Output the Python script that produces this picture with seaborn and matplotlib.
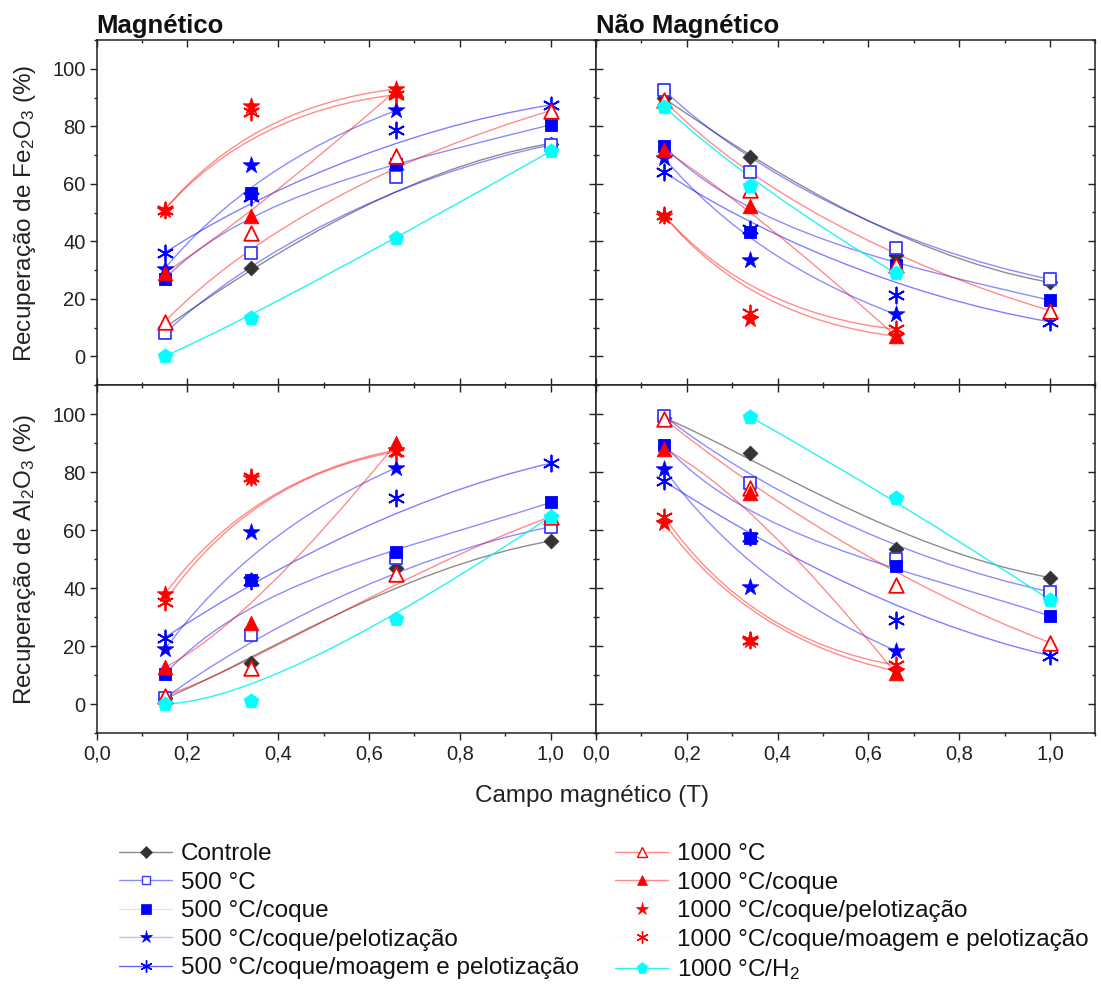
import numpy as np
import matplotlib
matplotlib.use("Agg")
import matplotlib.pyplot as plt
import matplotlib.ticker as mticker
import seaborn as sns
import pandas as pd
from matplotlib.path import Path
from matplotlib.patches import PathPatch
from matplotlib.lines import Line2D

# ---------------- data ----------------
campo = [0.15, 0.34, 0.66, 1.0]          # magnetic field (T)
nan = np.nan

# Magnetic fraction, Fe2O3 recovery (%)
fe_mag_controle   = [10.0, 30.6, 65.0, 74.0]
fe_mag_500        = [8.0, 36.0, 62.5, 73.5]
fe_mag_500c       = [27.0, 56.7, 67.0, 80.5]
fe_mag_500cp      = [30.5, 66.5, 85.5, nan]
fe_mag_500cmp     = [36.0, 55.5, 78.8, 87.4]
fe_mag_1000       = [12.0, 43.0, 69.6, 85.4]
fe_mag_1000c      = [29.0, 48.7, 92.5, nan]
fe_mag_1000cp     = [51.0, 87.0, 93.0, nan]
fe_mag_1000cmp    = [51.0, 85.0, 91.0, nan]
fe_mag_1000h2     = [0.0, 13.4, 41.0, 71.3]

# Non-magnetic fraction, Fe2O3 recovery (%)
fe_nmag_controle  = [89.7, 69.3, 35.2, 25.7]
fe_nmag_500       = [92.5, 64.2, 37.7, 26.8]
fe_nmag_500c      = [73.0, 43.2, 31.8, 19.5]
fe_nmag_500cp     = [69.0, 33.5, 14.6, nan]
fe_nmag_500cmp    = [64.1, 44.1, 21.2, 12.0]
fe_nmag_1000      = [89.0, 58.0, 31.8, 15.9]
fe_nmag_1000c     = [71.9, 52.2, 7.1, nan]
fe_nmag_1000cp    = [48.9, 13.0, 7.0, nan]
fe_nmag_1000cmp   = [49.0, 15.0, 9.4, nan]
fe_nmag_1000h2    = [86.8, 59.3, 28.9, nan]

# Magnetic fraction, Al2O3 recovery (%)
al_mag_controle   = [1.9, 14.0, 46.8, 56.2]
al_mag_500        = [2.0, 23.8, 50.2, 61.1]
al_mag_500c       = [10.2, 42.8, 52.3, 69.5]
al_mag_500cp      = [18.8, 59.4, 81.5, nan]
al_mag_500cmp     = [22.9, 42.4, 70.9, 83.0]
al_mag_1000       = [2.9, 12.5, 45.0, 64.6]
al_mag_1000c      = [12.6, 28.0, 89.9, nan]
al_mag_1000cp     = [37.9, 78.0, 87.6, nan]
al_mag_1000cmp    = [35.3, 78.4, 87.0, nan]
al_mag_1000h2     = [0.0, 1.0, 29.2, 64.6]

# Non-magnetic fraction, Al2O3 recovery (%)
al_nmag_controle  = [98.7, 86.4, 53.3, 43.6]
al_nmag_500       = [99.3, 76.1, 50.0, 38.7]
al_nmag_500c      = [89.3, 57.1, 47.6, 30.4]
al_nmag_500cp     = [81.0, 40.4, 18.4, nan]
al_nmag_500cmp    = [76.9, 57.7, 29.0, 16.7]
al_nmag_1000      = [98.3, 74.4, 41.2, 21.2]
al_nmag_1000c     = [88.1, 72.6, 10.6, nan]
al_nmag_1000cp    = [62.3, 22.0, 11.4, nan]
al_nmag_1000cmp   = [64.6, 22.0, 13.4, nan]
al_nmag_1000h2    = [nan, 99.0, 70.9, 35.9]

series_names = ["Controle", "500 °C", "500 °C/coque", "500 °C/coque/pelotização",
                "500 °C/coque/moagem e pelotização", "1000 °C", "1000 °C/coque",
                "1000 °C/coque/pelotização", "1000 °C/coque/moagem e pelotização",
                "1000 °C/H$_2$"]

panel_titles = ["Magnético", "Não Magnético"]
ylabels = ["Recuperação de Fe$_2$O$_3$ (%)", "Recuperação de Al$_2$O$_3$ (%)"]
xlabel = "Campo magnético (T)"
xtick_vals = [0.0, 0.2, 0.4, 0.6, 0.8, 1.0]
xtick_labels = ["0,0", "0,2", "0,4", "0,6", "0,8", "1,0"]
ytick_vals = [0, 20, 40, 60, 80, 100]
ytick_labels = ["0", "20", "40", "60", "80", "100"]

panels = [
    [fe_mag_controle, fe_mag_500, fe_mag_500c, fe_mag_500cp, fe_mag_500cmp,
     fe_mag_1000, fe_mag_1000c, fe_mag_1000cp, fe_mag_1000cmp, fe_mag_1000h2],
    [fe_nmag_controle, fe_nmag_500, fe_nmag_500c, fe_nmag_500cp, fe_nmag_500cmp,
     fe_nmag_1000, fe_nmag_1000c, fe_nmag_1000cp, fe_nmag_1000cmp, fe_nmag_1000h2],
    [al_mag_controle, al_mag_500, al_mag_500c, al_mag_500cp, al_mag_500cmp,
     al_mag_1000, al_mag_1000c, al_mag_1000cp, al_mag_1000cmp, al_mag_1000h2],
    [al_nmag_controle, al_nmag_500, al_nmag_500c, al_nmag_500cp, al_nmag_500cmp,
     al_nmag_1000, al_nmag_1000c, al_nmag_1000cp, al_nmag_1000cmp, al_nmag_1000h2],
]

# ---------------- style ----------------
sns.set_theme(style="white")
plt.rcParams['font.family'] = ['Liberation Sans', 'DejaVu Sans']
plt.rcParams['mathtext.fontset'] = 'custom'
plt.rcParams['mathtext.rm'] = 'Liberation Sans'
plt.rcParams['mathtext.it'] = 'Liberation Sans:italic'
plt.rcParams['mathtext.bf'] = 'Liberation Sans:bold'

BLUE = "#0000FF"
RED = "#FF0000"
CYAN = "#00FFFF"
DARK = "#333333"
ASTER = (6, 2, 0)

# marker, markersize, facecolor, edgecolor, line rgba, legend-line alpha
styles = [
    dict(marker="D", ms=7.5, fc=DARK, ec=DARK, lc=(0, 0, 0, 0.45), la=0.45),
    dict(marker="s", ms=8.5, fc="white", ec="#3a3aff", lc=(0, 0, 1, 0.45), la=0.45),
    dict(marker="s", ms=9.0, fc=BLUE, ec=BLUE, lc=(0, 0, 1, 0.45), la=0.12),
    dict(marker="*", ms=12.5, fc=BLUE, ec=BLUE, lc=(0, 0, 1, 0.45), la=0.25),
    dict(marker=ASTER, ms=11.5, fc=BLUE, ec=BLUE, lc=(0, 0, 1, 0.5), la=0.6),
    dict(marker="^", ms=10.5, fc="white", ec=RED, lc=(1, 0, 0, 0.45), la=0.45),
    dict(marker="^", ms=10.5, fc=RED, ec=RED, lc=(1, 0, 0, 0.45), la=0.45),
    dict(marker="*", ms=12.5, fc=RED, ec=RED, lc=(1, 0, 0, 0.45), la=0.0),
    dict(marker=ASTER, ms=11.5, fc=RED, ec=RED, lc=(1, 0, 0, 0.45), la=0.04),
    dict(marker="p", ms=11.0, fc=CYAN, ec=CYAN, lc=(0, 0.95, 0.95, 0.85), la=0.85),
]

W, H = 1101, 984
fig = plt.figure(figsize=(W / 100, H / 100), dpi=100)
fig.patch.set_facecolor("white")

axL = 96.7 / W
axW = 499.3 / W
rects = [
    (axL, 1 - 385 / H, axW, 345 / H),
    (axL + axW, 1 - 385 / H, axW, 345 / H),
    (axL, 1 - 733 / H, axW, 348 / H),
    (axL + axW, 1 - 733 / H, axW, 348 / H),
]

TICK_FS = 14.5
for k, rect in enumerate(rects):
    ax = fig.add_axes(rect)
    ax.set_facecolor("white")
    is_left = (k % 2 == 0)
    is_bottom = (k >= 2)

    for j, vals in enumerate(panels[k]):
        st = styles[j]
        df = pd.DataFrame({"x": campo, "y": vals}).dropna()
        pts = df[["x", "y"]].to_numpy()
        n = len(pts)
        if n == 4:
            codes = [Path.MOVETO, Path.CURVE4, Path.CURVE4, Path.CURVE4]
        elif n == 3:
            codes = [Path.MOVETO, Path.CURVE3, Path.CURVE3]
        else:
            codes = [Path.MOVETO] + [Path.LINETO] * (n - 1)
        ax.add_patch(PathPatch(Path(pts, codes), facecolor="none",
                               edgecolor=st["lc"], lw=1.0, zorder=2 + j * 0.01))
        m = st["marker"]
        if m == ASTER:
            sns.scatterplot(data=df, x="x", y="y", ax=ax, marker=m,
                            s=st["ms"] ** 2, color=st["ec"], linewidth=1.3,
                            zorder=3 + j * 0.01, legend=False)
        else:
            sns.scatterplot(data=df, x="x", y="y", ax=ax, marker=m,
                            s=st["ms"] ** 2, facecolor=st["fc"], edgecolor=st["ec"],
                            linewidth=1.3 if st["fc"] == "white" else 0.6,
                            zorder=3 + j * 0.01, legend=False)

    ax.set_xlim(0, 1.1)
    ax.set_ylim(-10, 110)
    ax.set_xlabel("")
    ax.set_ylabel("")
    for sp in ax.spines.values():
        sp.set_color("#222222")
        sp.set_linewidth(1.1)

    ax.set_xticks(xtick_vals)
    ax.set_yticks(ytick_vals)
    ax.xaxis.set_minor_locator(mticker.MultipleLocator(0.1))
    ax.yaxis.set_minor_locator(mticker.MultipleLocator(10))
    if is_bottom:
        ax.set_xticklabels(xtick_labels)
    else:
        ax.set_xticklabels([])
    if is_left:
        ax.set_yticklabels(ytick_labels)
    else:
        ax.set_yticklabels([])

    xdir = "out" if is_bottom else "in"
    ydir = "out" if is_left else "in"
    ax.tick_params(axis="x", which="both", bottom=True, top=False, direction=xdir,
                   colors="#222222", labelcolor="#222222", labelsize=TICK_FS, pad=3)
    ax.tick_params(axis="y", which="both", left=True, right=False, direction=ydir,
                   colors="#222222", labelcolor="#222222", labelsize=TICK_FS, pad=3)
    ax.tick_params(which="major", length=5, width=1.0)
    ax.tick_params(which="minor", length=2.3, width=1.0)

    # top / right ticks pointing inward
    sx = ax.secondary_xaxis("top")
    sx.set_xticks(xtick_vals)
    sx.xaxis.set_minor_locator(mticker.MultipleLocator(0.1))
    sx.set_xticklabels([])
    sx.tick_params(which="both", direction="in", colors="#222222")
    sx.tick_params(which="major", length=5, width=1.0)
    sx.tick_params(which="minor", length=2.3, width=1.0)
    sx.spines["top"].set_visible(False)
    sy = ax.secondary_yaxis("right")
    sy.set_yticks(ytick_vals)
    sy.yaxis.set_minor_locator(mticker.MultipleLocator(10))
    sy.set_yticklabels([])
    sy.tick_params(which="both", direction="in", colors="#222222")
    sy.tick_params(which="major", length=5, width=1.0)
    sy.tick_params(which="minor", length=2.3, width=1.0)
    sy.spines["right"].set_visible(False)

    if not is_bottom:
        ax.set_title(panel_titles[k % 2], loc="left", fontsize=18.5,
                     fontweight="bold", pad=5, color="#111111")

# axis labels
fig.text(25 / W, 1 - 213 / H, ylabels[0], rotation=90, ha="center", va="center",
         fontsize=17.5, color="#222222")
fig.text(25 / W, 1 - 560 / H, ylabels[1], rotation=90, ha="center", va="center",
         fontsize=17.5, color="#222222")
fig.text(592 / W, 1 - 796 / H, xlabel, ha="center", va="center",
         fontsize=17.5, color="#222222")

# legend
handles = []
for j, st in enumerate(styles):
    lc = st["lc"][:3] + (st["la"],)
    m = st["marker"]
    if m == ASTER:
        h = Line2D([], [], color=lc, lw=1.0, marker=m, markersize=st["ms"] * 0.75,
                   markeredgecolor=st["ec"], markeredgewidth=1.0)
    else:
        h = Line2D([], [], color=lc, lw=1.0, marker=m, markersize=st["ms"] * 0.75,
                   markerfacecolor=st["fc"], markeredgecolor=st["ec"],
                   markeredgewidth=1.0 if st["fc"] == "white" else 0.5)
    handles.append(h)

leg_kw = dict(loc="upper left", frameon=False, fontsize=17.5, handlelength=2.2,
              handletextpad=0.35, labelspacing=0.27, borderpad=0, borderaxespad=0,
              labelcolor="#111111")
fig.legend(handles[:5], series_names[:5], bbox_to_anchor=(119 / W, 1 - 843 / H), **leg_kw)
fig.legend(handles[5:], series_names[5:], bbox_to_anchor=(615 / W, 1 - 843 / H), **leg_kw)

fig.savefig("out.png", dpi=100, facecolor="white")
